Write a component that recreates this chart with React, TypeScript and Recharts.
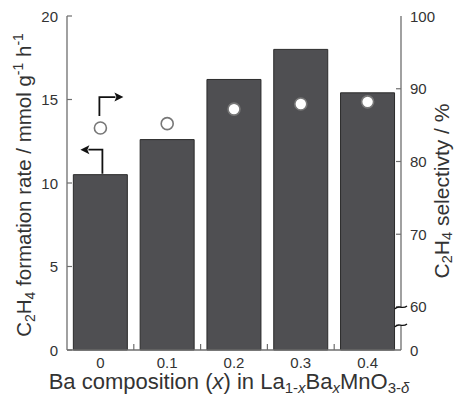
import { Bar, ComposedChart, Line, ReferenceDot, XAxis, YAxis, Label } from 'recharts';

const compositions = ['0', '0.1', '0.2', '0.3', '0.4'];
const formationRate = [10.5, 12.6, 16.2, 18.0, 15.4];
const selectivity = [84.6, 85.2, 87.2, 87.9, 88.2];
const rateTicks = [0, 5, 10, 15, 20];
const selectivityTicks = [0, 60, 70, 80, 90, 100];

// right axis has a break: 0 at the bottom, then 60-100 linear above it.
// selectivity is mapped onto the rate scale (0-20) so both share one frame.
const BREAK_POS = 2.575;
const toRatePos = (s: number) => (s <= 0 ? 0 : BREAK_POS + ((s - 60) * (20 - BREAK_POS)) / 40);
const rateTicksRight = selectivityTicks.map(toRatePos);

const data = compositions.map((x, i) => ({
  x,
  rate: formationRate[i],
  sel: toRatePos(selectivity[i]),
}));

const W = 456;
const H = 395;
const LEFT_W = 67;
const RIGHT_W = 55;
const TOP = 16;
const BOTTOM_H = 45;
const bandWidth = (W - LEFT_W - RIGHT_W) / compositions.length;

const FONT = '"Liberation Sans", Arial, sans-serif';
const FRAME = '#6e6e6e';
const TEXT = '#333';
const TICK_FS = 15;

const LeftTick = (props: any) => {
  const { x, y, payload } = props;
  const axisX = x + 9;
  return (
    <g>
      <line x1={axisX} x2={axisX + 5} y1={y} y2={y} stroke={FRAME} strokeWidth={1.2} />
      <text x={x} y={y} textAnchor="end" dominantBaseline="central" fontSize={TICK_FS} fill={TEXT} fontFamily={FONT}>
        {payload.value}
      </text>
    </g>
  );
};

const RightTick = (props: any) => {
  const { x, y, payload } = props;
  const axisX = x - 9;
  const label = selectivityTicks[rateTicksRight.indexOf(payload.value)];
  const squiggle = (cy: number) => (
    <path
      d={`M ${axisX - 6} ${cy + 2} C ${axisX - 3} ${cy - 3}, ${axisX + 1} ${cy + 3}, ${axisX + 6} ${cy - 1}`}
      fill="none"
      stroke="#111"
      strokeWidth={1.4}
    />
  );
  return (
    <g>
      {label !== 0 && label !== 100 && (
        <line x1={axisX} x2={axisX - 5} y1={y} y2={y} stroke={FRAME} strokeWidth={1.2} />
      )}
      {label === 60 && (
        <g>
          <rect x={axisX - 2} y={y + 1} width={4} height={17} fill="#fff" />
          {squiggle(y)}
          {squiggle(y + 18)}
        </g>
      )}
      <text x={x} y={y} textAnchor="start" dominantBaseline="central" fontSize={TICK_FS} fill={TEXT} fontFamily={FONT}>
        {label}
      </text>
    </g>
  );
};

const BottomTick = (props: any) => {
  const { x, y, payload } = props;
  const axisY = y - 12;
  const bx = x - bandWidth / 2;
  return (
    <g>
      {payload.index > 0 && (
        <line x1={bx} x2={bx} y1={axisY} y2={axisY - 6} stroke={FRAME} strokeWidth={1.2} />
      )}
      <text x={x} y={y} textAnchor="middle" dominantBaseline="central" fontSize={TICK_FS} fill={TEXT} fontFamily={FONT}>
        {payload.value}
      </text>
    </g>
  );
};

const LeftArrow = (props: any) => {
  const { cx, cy } = props;
  const tx = cx + 2;
  const ty = cy - 25;
  return (
    <g>
      <path d={`M ${tx} ${cy - 1} V ${ty} H ${cx - 12}`} fill="none" stroke="#111" strokeWidth={1.8} />
      <path d={`M ${cx - 20} ${ty} L ${cx - 11} ${ty - 4.5} L ${cx - 13} ${ty} L ${cx - 11} ${ty + 4.5} Z`} fill="#111" />
    </g>
  );
};

const RightArrow = (props: any) => {
  const { cx, cy } = props;
  const tx = cx - 1;
  const ty = cy - 31;
  return (
    <g>
      <path d={`M ${tx} ${cy - 12} V ${ty} H ${cx + 15}`} fill="none" stroke="#111" strokeWidth={1.8} />
      <path d={`M ${cx + 23} ${ty} L ${cx + 14} ${ty - 4.5} L ${cx + 16} ${ty} L ${cx + 14} ${ty + 4.5} Z`} fill="#111" />
    </g>
  );
};

const LeftTitle = (props: any) => {
  const { viewBox } = props;
  const cx = viewBox.x + 31;
  const cy = viewBox.y + viewBox.height / 2 + 2;
  return (
    <text
      x={cx}
      y={cy}
      transform={`rotate(-90, ${cx}, ${cy})`}
      textAnchor="middle"
      fontSize={20.5}
      fill={TEXT}
      fontFamily={FONT}
    >
      C<tspan fontSize={14} dy={4}>2</tspan>
      <tspan dy={-4}>H</tspan>
      <tspan fontSize={14} dy={4}>4</tspan>
      <tspan dy={-4}> formation rate / mmol g</tspan>
      <tspan fontSize={14} dy={-8}>-1</tspan>
      <tspan dy={8}> h</tspan>
      <tspan fontSize={14} dy={-8}>-1</tspan>
    </text>
  );
};

const RightTitle = (props: any) => {
  const { viewBox } = props;
  const cx = viewBox.x + 48;
  const cy = viewBox.y + viewBox.height / 2 + 8;
  return (
    <text
      x={cx}
      y={cy}
      transform={`rotate(-90, ${cx}, ${cy})`}
      textAnchor="middle"
      fontSize={21}
      fill={TEXT}
      fontFamily={FONT}
    >
      C<tspan fontSize={14.5} dy={2.5}>2</tspan>
      <tspan dy={-2.5}>H</tspan>
      <tspan fontSize={14.5} dy={2.5}>4</tspan>
      <tspan dy={-2.5}> selectivty / %</tspan>
    </text>
  );
};

const BottomTitle = (props: any) => {
  const { viewBox } = props;
  const cx = viewBox.x + viewBox.width / 2 - 5;
  const cy = viewBox.y + 39;
  return (
    <text x={cx} y={cy} textAnchor="middle" fontSize={22} fill={TEXT} fontFamily={FONT}>
      Ba composition (<tspan fontStyle="italic">x</tspan>) in La
      <tspan fontSize={15} dy={4}>1-</tspan>
      <tspan fontSize={15} fontStyle="italic">x</tspan>
      <tspan dy={-4}>Ba</tspan>
      <tspan fontSize={15} dy={4} fontStyle="italic">x</tspan>
      <tspan dy={-4}>MnO</tspan>
      <tspan fontSize={15} dy={4}>3-</tspan>
      <tspan fontSize={15} fontStyle="italic">δ</tspan>
    </text>
  );
};

export default function App() {
  return (
    <div style={{ position: 'fixed', left: 0, top: 0, background: '#fff' }}>
      <ComposedChart
        width={W}
        height={H}
        data={data}
        margin={{ top: TOP, right: 0, bottom: 0, left: 0 }}
        barCategoryGap="9.5%"
      >
        <XAxis
          dataKey="x"
          xAxisId="bottom"
          height={BOTTOM_H}
          tickSize={0}
          tickMargin={12}
          tick={<BottomTick />}
          axisLine={{ stroke: FRAME, strokeWidth: 1.3 }}
          tickLine={false}
          interval={0}
        >
          <Label content={<BottomTitle />} />
        </XAxis>
        <XAxis
          dataKey="x"
          xAxisId="top"
          orientation="top"
          height={0}
          tick={false}
          tickLine={false}
          axisLine={{ stroke: FRAME, strokeWidth: 1.3 }}
        />
        <YAxis
          yAxisId="left"
          domain={[0, 20]}
          ticks={rateTicks}
          width={LEFT_W}
          tickSize={0}
          tickMargin={9}
          tick={<LeftTick />}
          tickLine={false}
          axisLine={{ stroke: FRAME, strokeWidth: 1.3 }}
          interval={0}
        >
          <Label content={<LeftTitle />} />
        </YAxis>
        <YAxis
          yAxisId="right"
          orientation="right"
          domain={[0, 20]}
          ticks={rateTicksRight}
          width={RIGHT_W}
          tickSize={0}
          tickMargin={9}
          tick={<RightTick />}
          tickLine={false}
          axisLine={{ stroke: FRAME, strokeWidth: 1.3 }}
          interval={0}
        >
          <Label content={<RightTitle />} />
        </YAxis>
        <Bar
          dataKey="rate"
          xAxisId="bottom"
          yAxisId="left"
          fill="#4f4f52"
          stroke="#2b2b2b"
          strokeWidth={1}
          isAnimationActive={false}
        />
        <Line
          dataKey="sel"
          xAxisId="bottom"
          yAxisId="right"
          stroke="none"
          dot={{ r: 6, fill: '#fff', stroke: '#777', strokeWidth: 1.6 }}
          activeDot={false}
          isAnimationActive={false}
        />
        <ReferenceDot
          x="0"
          y={formationRate[0]}
          xAxisId="bottom"
          yAxisId="left"
          shape={<LeftArrow />}
        />
        <ReferenceDot
          x="0"
          y={toRatePos(selectivity[0])}
          xAxisId="bottom"
          yAxisId="right"
          shape={<RightArrow />}
        />
      </ComposedChart>
    </div>
  );
}
